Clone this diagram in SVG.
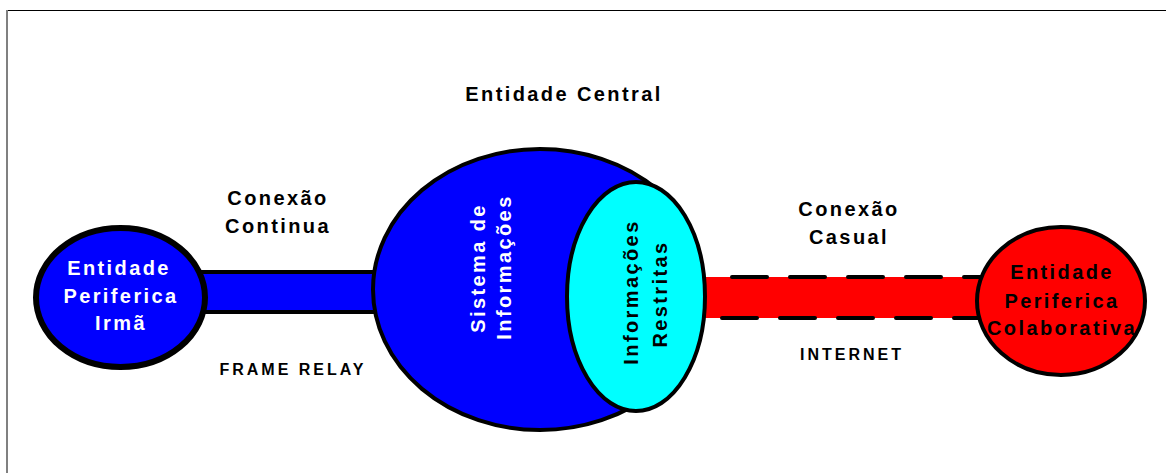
<svg xmlns="http://www.w3.org/2000/svg" width="1166" height="473" viewBox="0 0 1166 473">
  <style>
    .t { font-family: "Liberation Sans", Arial, sans-serif; font-weight: bold; font-size: 20px; letter-spacing: 2.4px; text-anchor: middle; }
    .s { font-family: "Liberation Sans", Arial, sans-serif; font-weight: bold; font-size: 16px; letter-spacing: 3px; text-anchor: middle; fill: #000; }
    .w { fill: #fff; }
    .k { fill: #000; }
    .dash { stroke: #000; stroke-width: 4; stroke-dasharray: 35 23; stroke-linecap: round; fill: none; }
  </style>
  <defs>
    <clipPath id="blueClip">
      <polygon points="0,0 655,0 655,190 692,245 692,350 655,400 655,473 0,473"/>
    </clipPath>
  </defs>
  <rect x="0" y="0" width="1166" height="473" fill="#fff"/>
  <g id="frame">
    <line x1="6" y1="10.5" x2="1166" y2="10.5" stroke="#000" stroke-width="1"/>
    <line x1="7" y1="10" x2="7" y2="473" stroke="#808080" stroke-width="2"/>
  </g>
  <g id="connectors">
    <g id="frame-relay">
      <rect x="195" y="272" width="185" height="40" fill="#0000ff"/>
      <line x1="195" y1="272" x2="380" y2="272" stroke="#000" stroke-width="4"/>
      <line x1="195" y1="312" x2="380" y2="312" stroke="#000" stroke-width="4"/>
    </g>
    <g id="internet">
      <rect x="700" y="277" width="285" height="41" fill="#ff0000"/>
      <line class="dash" x1="732" y1="277" x2="990" y2="277"/>
      <line class="dash" x1="722" y1="318" x2="990" y2="318"/>
    </g>
    <text class="t k" x="278" y="205">Conexão</text>
    <text class="t k" x="278" y="233">Continua</text>
    <text class="s" x="293" y="375">FRAME RELAY</text>
    <text class="t k" x="849" y="216">Conexão</text>
    <text class="t k" x="849" y="244">Casual</text>
    <text class="s" x="852" y="360">INTERNET</text>
  </g>
  <g id="entidade-central-label">
    <text class="t k" x="564" y="101">Entidade Central</text>
  </g>
  <g id="entidade-periferica-irma">
    <ellipse cx="120.5" cy="297.5" rx="84.5" ry="69.5" fill="#0000ff" stroke="#000" stroke-width="6"/>
    <text class="t w" x="119" y="275">Entidade</text>
    <text class="t w" x="121" y="303">Periferica</text>
    <text class="t w" x="121" y="330">Irmã</text>
  </g>
  <g id="sistema-de-informacoes">
    <ellipse cx="540" cy="289.5" rx="167" ry="140.5" fill="#0000ff" stroke="#000" stroke-width="4" clip-path="url(#blueClip)"/>
    <text class="t w" transform="translate(485,268) rotate(-90)">Sistema de</text>
    <text class="t w" transform="translate(511,267) rotate(-90)">Informações</text>
  </g>
  <g id="informacoes-restritas">
    <ellipse cx="636" cy="296.5" rx="69" ry="114.5" fill="#00ffff" stroke="#000" stroke-width="4"/>
    <text class="t k" transform="translate(638,292) rotate(-90)">Informações</text>
    <text class="t k" transform="translate(667,294) rotate(-90)">Restritas</text>
  </g>
  <g id="entidade-periferica-colaborativa">
    <ellipse cx="1061" cy="301" rx="84" ry="74" fill="#ff0000" stroke="#000" stroke-width="4"/>
    <text class="t k" x="1062" y="279">Entidade</text>
    <text class="t k" x="1062" y="308">Periferica</text>
    <text class="t k" x="1062" y="335">Colaborativa</text>
  </g>
</svg>
